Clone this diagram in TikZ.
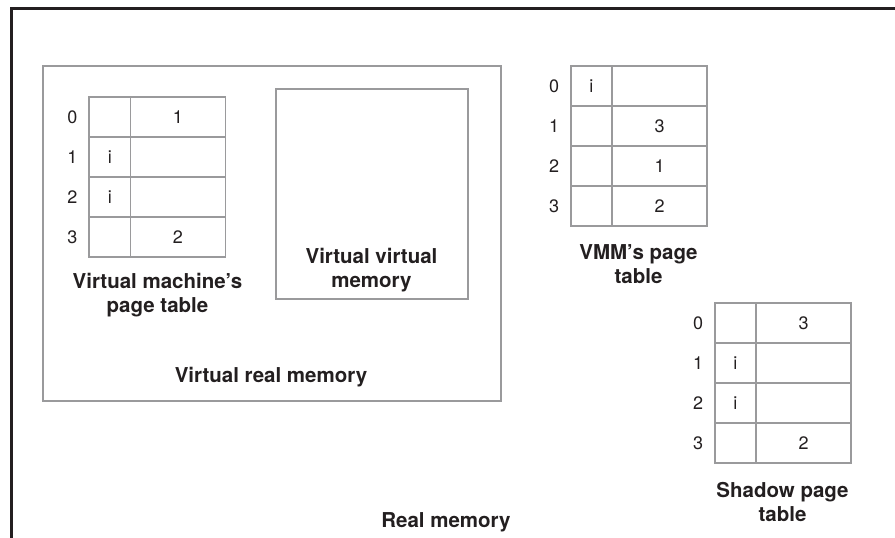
\documentclass[tikz,border=0pt]{standalone}
\usepackage{fontspec}
\setmainfont{TeX Gyre Heros}
\definecolor{boxgray}{HTML}{9A9A9C}
\definecolor{ink}{HTML}{231F20}
\tikzset{
  graybox/.style={draw=boxgray, line width=1.8pt, inner sep=0pt, anchor=north west},
  cellA/.style={draw=boxgray, line width=1.7pt, minimum width=41.5pt, minimum height=40pt, inner sep=0pt, text=ink, font=\fontsize{18}{21}\selectfont},
  cellB/.style={draw=boxgray, line width=1.7pt, minimum width=95pt, minimum height=40pt, inner sep=0pt, text=ink, font=\fontsize{18}{21}\selectfont},
  rowlab/.style={inner sep=0pt, text=ink, font=\fontsize{18}{21}\selectfont},
  caption/.style={inner sep=0pt, text=ink, align=center, font=\fontsize{20.5}{24}\selectfont\bfseries},
  frame/.style={draw=ink, line width=2.2pt},
}
\newcommand\pagetable[4]{%
  \foreach \a/\b [count=\k from 0] in {#4}{
    \node[cellA] (#1-a\k) at ({#2+20.75},{#3+20+40*\k}) {\a};
    \node[cellB] (#1-b\k) at ({#2+41.5+47.5},{#3+20+40*\k}) {\b};
    \node[rowlab] (#1-n\k) at ({#2-16.5},{#3+20+40*\k}) {\k};
  }%
}
\begin{document}
\begin{tikzpicture}[x=1pt,y=-1pt]
\useasboundingbox (0,0) rectangle (895,538);
\draw[frame] (11.5,538) -- (11.5,8.5) -- (895,8.5);
\node[graybox, minimum width=458pt, minimum height=335pt] (vrm) at (42,65) {};
\node[graybox, minimum width=192pt, minimum height=210pt] (vvm) at (275,88) {};
\pagetable{vm}{89}{97.3}{/1, i/, i/, /2}
\pagetable{vmm}{570.7}{66}{i/, /3, /1, /2}
\pagetable{sh}{714.7}{303.3}{/3, i/, i/, /2}
\node[caption] (vmcap) at (157.5,295) {Virtual machine’s\\page table};
\node[caption] (vvmcap) at (371.5,270.5) {Virtual virtual\\memory};
\node[caption] (vrmcap) at (271,377) {Virtual real memory};
\node[caption] (vmmcap) at (638.5,264.5) {VMM’s page\\table};
\node[caption] (shcap) at (782.5,501.5) {Shadow page\\table};
\node[caption] (rmcap) at (446,522) {Real memory};
\end{tikzpicture}
\end{document}
